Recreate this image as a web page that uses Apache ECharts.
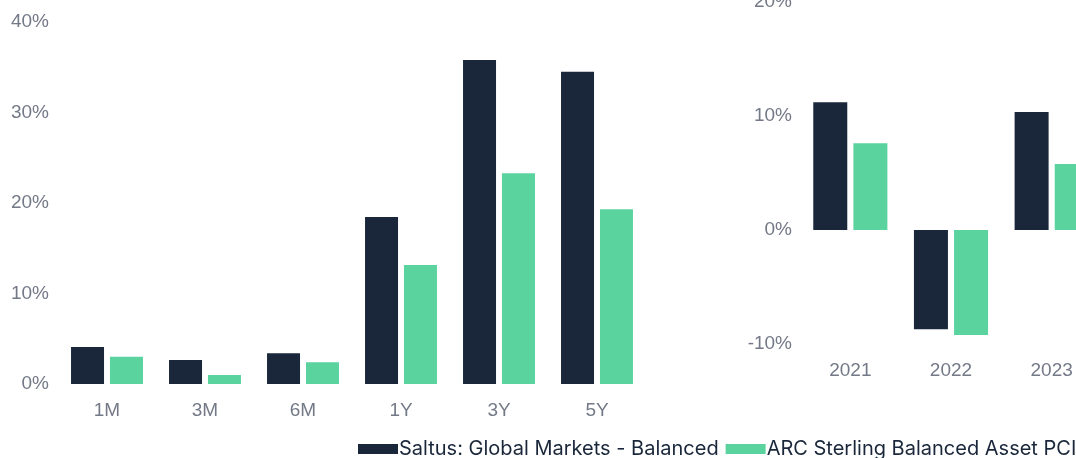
<!DOCTYPE html>
<html><head><meta charset="utf-8">
<script src="https://cdn.jsdelivr.net/npm/echarts@6/dist/echarts.min.js"></script>
<style>html,body{margin:0;padding:0;background:#fff}#c{width:1076px;height:458px}</style>
</head><body><div id="c"></div>
<script>
const periodCats = ['1M','3M','6M','1Y','3Y','5Y'];
const periodSaltus = [4.1, 2.65, 3.4, 18.45, 35.8, 34.5];
const periodArc = [3.0, 1.0, 2.4, 13.15, 23.3, 19.3];
const yearCats = ['2021','2022','2023'];
const yearSaltus = [11.2, -8.7, 10.35];
const yearArc = [7.6, -9.2, 5.8];
const seriesNames = ['Saltus: Global Markets - Balanced','ARC Sterling Balanced Asset PCI'];
const colors = ['#1A273A','#5AD39F'];

const chart = echarts.init(document.getElementById('c'));
const labelStyle = {color:'#737987', fontSize:19, fontFamily:'"Liberation Sans", Arial, sans-serif'};
chart.setOption({
  animation:false,
  color: colors,
  legend:{
    data: seriesNames,
    left: 358, top: 439, width: 760, padding: 0,
    itemWidth: 40, itemHeight: 10, itemGap: 7,
    icon:'rect',
    textStyle:{color:'#1A273A', fontSize:20, fontFamily:'Inter, sans-serif', padding:[0,0,0,-4]}
  },
  grid:[
    {left:58, top:22, width:588, height:362, outerBoundsMode:'none'},
    {left:800, top:2, width:302, height:342, outerBoundsMode:'none'}
  ],
  xAxis:[
    {type:'category', gridIndex:0, data:periodCats, axisLine:{show:false}, axisTick:{show:false},
     axisLabel:Object.assign({margin:17}, labelStyle)},
    {type:'category', gridIndex:1, data:yearCats, axisLine:{show:false, onZero:false}, axisTick:{show:false},
     axisLabel:Object.assign({margin:17}, labelStyle)}
  ],
  yAxis:[
    {type:'value', gridIndex:0, min:0, max:40, interval:10, splitLine:{show:false},
     axisLabel:Object.assign({formatter:'{value}%', margin:9}, labelStyle)},
    {type:'value', gridIndex:1, min:-10, max:20, interval:10, splitLine:{show:false},
     axisLabel:Object.assign({formatter:'{value}%', margin:8}, labelStyle)}
  ],
  series:[
    {name:seriesNames[0], type:'bar', xAxisIndex:0, yAxisIndex:0, data:periodSaltus, barWidth:33, barGap:'18%'},
    {name:seriesNames[1], type:'bar', xAxisIndex:0, yAxisIndex:0, data:periodArc, barWidth:33, barGap:'18%'},
    {name:seriesNames[0], type:'bar', xAxisIndex:1, yAxisIndex:1, data:yearSaltus, barWidth:34, barGap:'18%'},
    {name:seriesNames[1], type:'bar', xAxisIndex:1, yAxisIndex:1, data:yearArc, barWidth:34, barGap:'18%'}
  ]
});
</script></body></html>
